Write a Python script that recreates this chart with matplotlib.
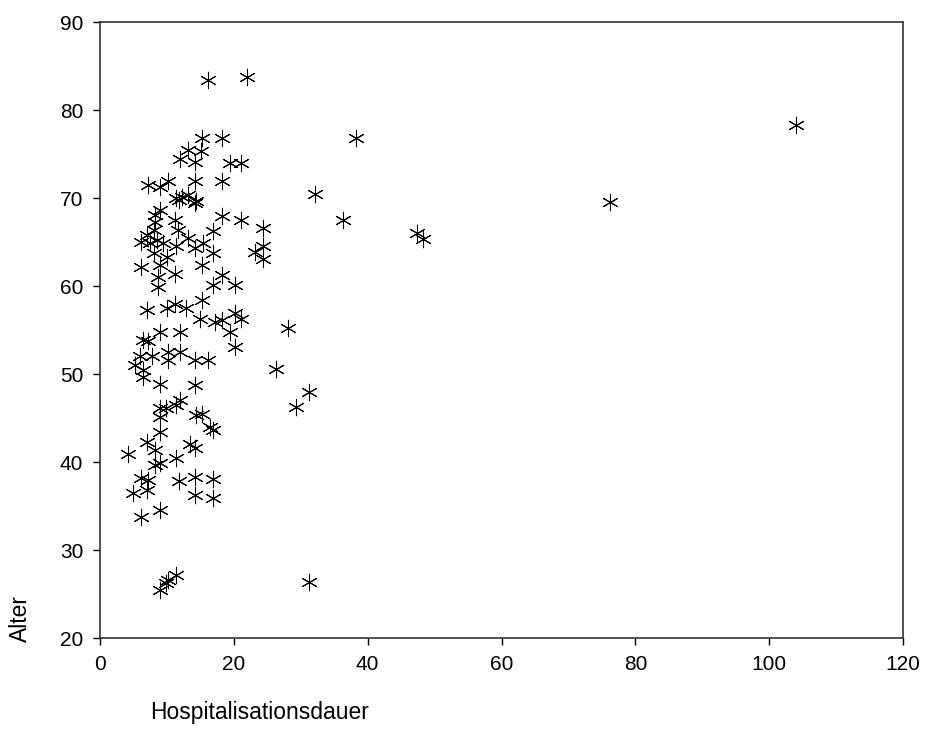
import matplotlib
matplotlib.use("Agg")
import matplotlib.pyplot as plt

plt.rcParams['font.family'] = ['Liberation Sans', 'DejaVu Sans']

hosp = [16.2, 22, 104, 38.3, 15.2, 18.2, 13.2, 15.1, 11.9, 14.2, 19.4, 21.1,
        7.1, 9, 10.1, 14.2, 18.2,
        32.2, 11.4, 11.8, 12.2, 13.2, 14.2, 14.4,
        76.2, 9, 8.2, 8.2, 11.2, 18.2, 21.1, 36.3,
        11.7, 8, 24.4, 16.9, 47.3, 48.2,
        7, 6.2, 7.5, 8.5, 9.4, 11.4, 13.2, 14.2, 15.4,
        8, 10, 16.9, 23.1, 24.4, 24.4,
        6.2, 9, 15.2, 11.2, 8.7, 18.2, 8.7, 16.9, 20.1,
        11.2, 15.2, 7, 10, 12.9, 14.9, 17.2, 18.2, 20.1, 21.1,
        28.1, 9, 11.9, 19.4, 6.5, 7.2, 20.1,
        6, 7.7, 10.2, 11.9, 10.2, 14.2, 16.2, 5.2, 26.3, 6.5, 6.5, 9, 14.2, 31.2,
        11.9, 11.4, 9, 9.9, 29.3, 14.4, 15.2, 9, 16.4, 16.9, 9, 13.4, 14.2, 7, 8.2,
        4.2, 11.3, 9, 8.2,
        6.2, 7.2, 11.8, 14.2, 16.9, 7, 5, 14.2, 16.9, 9, 6.2,
        9.9, 9, 11.4, 10.2, 31.3]

alter = [83.4, 83.7, 78.3, 76.8, 76.8, 76.8, 75.5, 75.3, 74.4, 74.1, 74.0, 74.0,
         71.5, 71.3, 71.9, 71.9, 71.9,
         70.5, 70.0, 69.8, 70.1, 70.3, 69.4, 69.7,
         69.5, 68.6, 68.1, 67.3, 67.5, 67.9, 67.5, 67.5,
         66.4, 66.4, 66.6, 66.2, 66.0, 65.3,
         65.8, 65.0, 64.9, 65.2, 64.9, 64.5, 65.4, 64.3, 64.9,
         63.7, 63.3, 63.7, 63.9, 64.5, 63.1,
         62.2, 62.4, 62.4, 61.4, 61.0, 61.3, 59.9, 60.1, 60.1,
         58.0, 58.4, 57.3, 57.5, 57.5, 56.3, 55.9, 56.1, 56.9, 56.3,
         55.2, 54.8, 54.8, 54.8, 53.9, 53.7, 53.1,
         52.0, 52.0, 52.5, 52.5, 51.6, 51.6, 51.6, 51.0, 50.6, 50.5, 49.7, 48.9, 48.8, 48.0,
         47.0, 46.5, 46.1, 46.1, 46.3, 45.3, 45.5, 45.1, 44.0, 43.6, 43.4, 42.1, 41.6, 42.3, 41.4,
         40.9, 40.4, 39.9, 39.7,
         38.2, 38.0, 37.8, 38.3, 38.1, 36.8, 36.5, 36.2, 35.9, 34.5, 33.7,
         26.2, 25.5, 27.2, 26.6, 26.4]

xticks = [0, 20, 40, 60, 80, 100, 120]
yticks = [20, 30, 40, 50, 60, 70, 80, 90]

fig = plt.figure(figsize=(9.25, 7.49), dpi=100)
ax = fig.add_axes([100/925, 1 - 638/749, 803/925, 616/749])

ax.scatter(hosp, alter, marker=(6, 2, 0), s=140, c='black', linewidths=0.75)

ax.set_xlim(0, 120)
ax.set_ylim(20, 90)
ax.set_xticks(xticks)
ax.set_yticks(yticks)
ax.tick_params(direction='out', length=5, width=1, labelsize=15, colors='black', pad=7)
for sp in ax.spines.values():
    sp.set_linewidth(1.2)
    sp.set_color('#333333')

fig.text(150/925, 1 - 712/749, 'Hospitalisationsdauer', fontsize=16.5, ha='left', va='center')
fig.text(20/925, 1 - 619/749, 'Alter', fontsize=16.5, rotation=90, ha='center', va='center')

fig.savefig('out.png', dpi=100, facecolor='white')
